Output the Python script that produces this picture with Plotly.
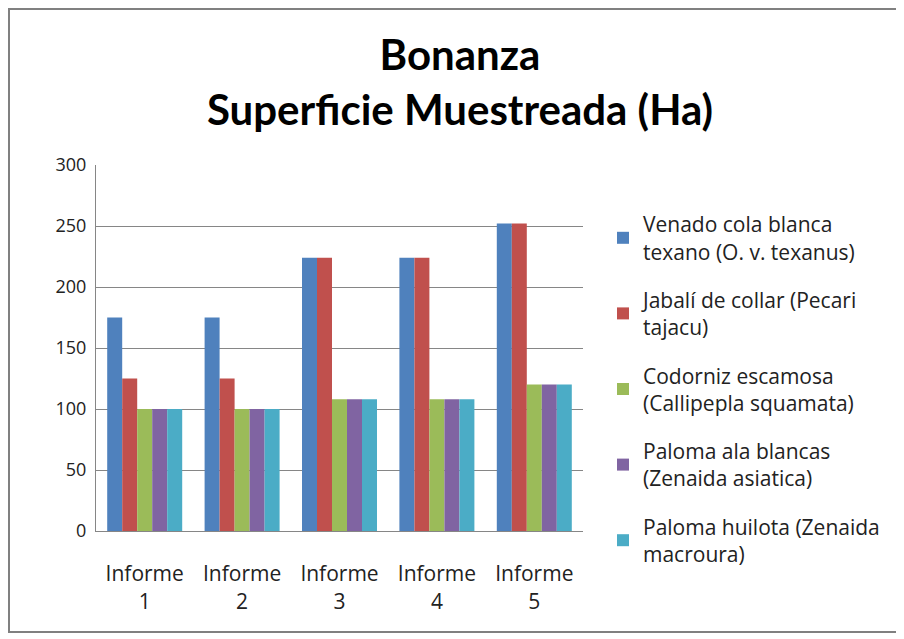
import plotly.graph_objects as go

categories = ["Informe<br>1", "Informe<br>2", "Informe<br>3", "Informe<br>4", "Informe<br>5"]
series_names = [
    "Venado cola blanca<br>texano (O. v. texanus)",
    "Jabalí de collar (Pecari<br>tajacu)",
    "Codorniz escamosa<br>(Callipepla squamata)",
    "Paloma ala blancas<br>(Zenaida asiatica)",
    "Paloma huilota (Zenaida<br>macroura)",
]
venado = [175, 175, 224, 224, 252]
jabali = [125, 125, 224, 224, 252]
codorniz = [100, 100, 108, 108, 120]
paloma_ala = [100, 100, 108, 108, 120]
paloma_huilota = [100, 100, 108, 108, 120]
series_values = [venado, jabali, codorniz, paloma_ala, paloma_huilota]
colors = ["#4F81BD", "#C0504D", "#9BBB59", "#8064A2", "#4BACC6"]

TXT = "Open Sans"
TITLE_FONT = "Lato"
fig = go.Figure()
for i, (name, vals, col) in enumerate(zip(series_names, series_values, colors)):
    fig.add_trace(go.Bar(x=categories, y=vals, name=name, marker_color=col,
                         marker_line_width=0, legendgroup=str(i)))

# page body has an 8px margin, so figure coords = screen coords - 8
OFF = 8
W, H = 904 - OFF, 639 - OFF
L, T = 96 - OFF, 165 - OFF
R = W - (583 - OFF)
B = H - (531 - OFF)
pw, ph = W - L - R, H - T - B

def px(x):
    return (x - OFF - L) / pw

def py(y):
    return (H - B - (y - OFF)) / ph

fig.update_layout(
    width=W, height=H,
    margin=dict(l=L, r=R, t=T, b=B),
    paper_bgcolor="white", plot_bgcolor="white",
    barmode="group", bargap=0.23, bargroupgap=0,
    font=dict(family=TXT, color="#222222", size=20),
    title=dict(text="<b>Bonanza<br>Superficie Muestreada (Ha)</b>",
               x=(460 - OFF) / W, xanchor="center",
               y=1 - (70 - OFF) / H, yanchor="middle",
               font=dict(family=TITLE_FONT, size=42, color="black")),
    legend=dict(x=px(603), y=py(204), xanchor="left", yanchor="top",
                font=dict(family=TXT, size=21, color="#222222"),
                tracegroupgap=18, itemwidth=30, traceorder="grouped",
                maxheight=600, bgcolor="rgba(0,0,0,0)"),
    xaxis=dict(showline=True, linecolor="#868686", linewidth=1, ticks="",
               ticklabelstandoff=24,
               tickfont=dict(family=TXT, size=21, color="#222222")),
    yaxis=dict(range=[0, 300], dtick=50, showgrid=True, gridcolor="#868686",
               gridwidth=1, showline=True, linecolor="#868686", linewidth=1,
               zeroline=False, ticks="", ticklen=0, ticklabelstandoff=5,
               tickfont=dict(family=TXT, size=18, color="#222222")),
    shapes=[dict(type="rect", xref="paper", yref="paper",
                 x0=px(9), x1=px(897), y0=py(632), y1=py(9),
                 line=dict(color="#808080", width=2), layer="below")],
)

fig.write_html("out.html")
